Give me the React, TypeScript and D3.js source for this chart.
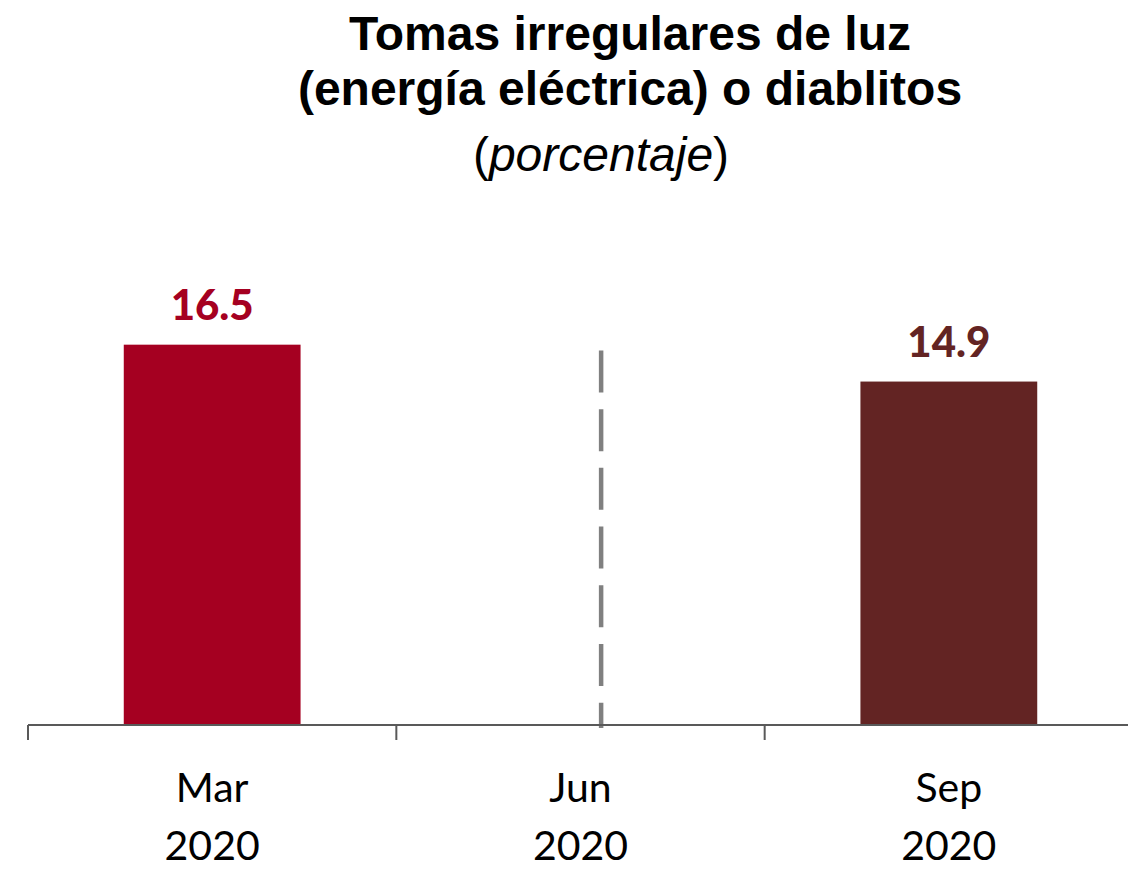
import * as d3 from "d3";
import { useEffect, useRef } from "react";

const months = ["Mar", "Jun", "Sep"];
const years = ["2020", "2020", "2020"];
const values: (number | null)[] = [16.5, null, 14.9];
const barColors = ["#A50021", "#A50021", "#632423"];
const titleLines = ["Tomas irregulares de luz", "(energía eléctrica) o diablitos"];

export default function App() {
  const ref = useRef<SVGSVGElement>(null);

  useEffect(() => {
    if (!ref.current) return;
    const svg = d3.select(ref.current);
    svg.selectAll("*").remove();

    const width = 1128,
      height = 880,
      margin = { left: 28, right: -5 };
    const baseline = 725;

    svg.attr("width", width).attr("height", height);

    const x = d3
      .scaleBand<number>()
      .domain(months.map((_, i) => i))
      .range([margin.left, width - margin.right])
      .padding(0);

    const y = d3.scaleLinear().domain([0, 20]).range([baseline, 264]);

    const barW = x.bandwidth() * 0.48;

    // Title
    const title = svg
      .append("text")
      .attr("text-anchor", "middle")
      .attr("font-family", "'Liberation Sans', Arial, sans-serif")
      .attr("font-weight", "bold")
      .attr("font-size", "48px")
      .attr("fill", "#000");
    titleLines.forEach((t, i) => {
      title
        .append("tspan")
        .attr("x", 630)
        .attr("y", 50 + i * 55)
        .text(t);
    });

    const sub = svg
      .append("text")
      .attr("x", 601)
      .attr("y", 171)
      .attr("text-anchor", "middle")
      .attr("font-family", "'Liberation Sans', Arial, sans-serif")
      .attr("font-size", "48px")
      .attr("fill", "#000");
    sub.append("tspan").text("(");
    sub.append("tspan").attr("font-style", "italic").text("porcentaje");
    sub.append("tspan").text(")");

    const data = values.map((v, i) => ({ i, v }));

    // Bars
    svg
      .selectAll("rect.bar")
      .data(data.filter((d) => d.v != null))
      .enter()
      .append("rect")
      .attr("class", "bar")
      .attr("x", (d) => x(d.i)! + (x.bandwidth() - barW) / 2)
      .attr("y", (d) => y(d.v as number))
      .attr("width", barW)
      .attr("height", (d) => baseline - y(d.v as number))
      .attr("fill", (d) => barColors[d.i]);

    // Value labels
    svg
      .selectAll("text.val")
      .data(data.filter((d) => d.v != null))
      .enter()
      .append("text")
      .attr("class", "val")
      .attr("x", (d) => x(d.i)! + x.bandwidth() / 2)
      .attr("y", (d) => y(d.v as number) - 25)
      .attr("text-anchor", "middle")
      .attr("font-family", "Lato, 'Open Sans', sans-serif")
      .attr("font-weight", "900")
      .attr("font-size", "42px")
      .attr("fill", (d) => barColors[d.i])
      .text((d) => (d.v as number).toFixed(1));

    // Missing-data marker (dashed line) for the empty period
    data
      .filter((d) => d.v == null)
      .forEach((d) => {
        const cx = x(d.i)! + x.bandwidth() * 0.556;
        svg
          .append("line")
          .attr("x1", cx)
          .attr("x2", cx)
          .attr("y1", y(16.25))
          .attr("y2", baseline + 3)
          .attr("stroke", "#808080")
          .attr("stroke-width", 4.5)
          .attr("stroke-dasharray", "42 16.7");
      });

    // Axis line + ticks
    svg
      .append("line")
      .attr("x1", margin.left)
      .attr("x2", width)
      .attr("y1", baseline)
      .attr("y2", baseline)
      .attr("stroke", "#595959")
      .attr("stroke-width", 2);

    svg
      .selectAll("line.tick")
      .data(months.map((_, i) => i))
      .enter()
      .append("line")
      .attr("class", "tick")
      .attr("x1", (i) => x(i)!)
      .attr("x2", (i) => x(i)!)
      .attr("y1", baseline)
      .attr("y2", baseline + 15)
      .attr("stroke", "#595959")
      .attr("stroke-width", 2);

    // Category labels
    const cats = svg
      .selectAll("text.cat")
      .data(months.map((m, i) => ({ m, yr: years[i], i })))
      .enter()
      .append("text")
      .attr("class", "cat")
      .attr("text-anchor", "middle")
      .attr("font-family", "Lato, 'Open Sans', sans-serif")
      .attr("font-size", "41px")
      .attr("fill", "#000");
    cats
      .append("tspan")
      .attr("x", (d) => x(d.i)! + x.bandwidth() / 2)
      .attr("y", 802)
      .text((d) => d.m);
    cats
      .append("tspan")
      .attr("x", (d) => x(d.i)! + x.bandwidth() / 2)
      .attr("y", 860)
      .text((d) => d.yr);
  }, []);

  return (
    <svg
      ref={ref}
      style={{ position: "absolute", left: 0, top: 0, background: "#fff" }}
    />
  );
}
